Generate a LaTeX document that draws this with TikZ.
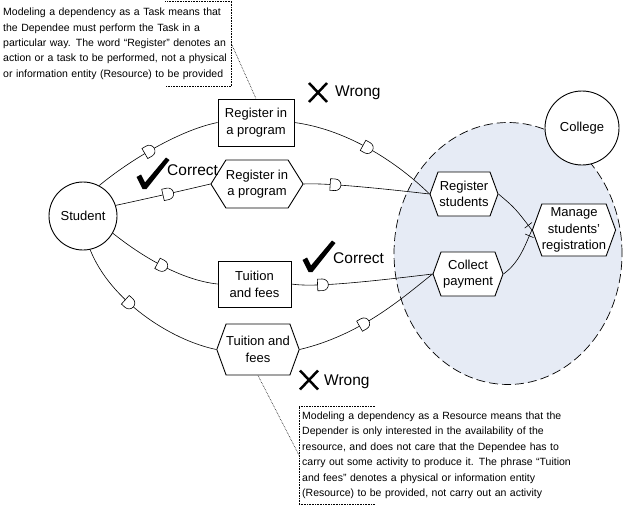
\documentclass[tikz,border=0pt]{standalone}
\usepackage{fontspec}
\setmainfont{Liberation Sans}
\usetikzlibrary{shapes.symbols,shapes.geometric,decorations.markings}

\definecolor{boundblue}{RGB}{230,235,245}

\newcommand{\okmark}[1]{\fill[shift={#1}] (-7.5,-11) -- (-3,-13.5) -- (1,-5.5) -- (22,-30.5) -- (25.5,-28) -- (2.5,1) -- (-1.5,1) -- cycle;}
\newcommand{\nomark}[1]{\draw[line width=2.5pt, shift={#1}] (-9,-9.5) -- (9,9.5) (9,-9.5) -- (-9,9.5);}

\tikzset{
  actor/.style={circle, draw, line width=0.9pt, fill=white, inner sep=0pt, font=\fontsize{13}{17}\selectfont},
  resbox/.style={rectangle, draw, line width=0.9pt, fill=white, align=center, inner sep=0pt, font=\fontsize{13}{17}\selectfont},
  taskhex/.style={signal, signal to=east and west, signal pointer angle=140, draw, line width=0.9pt, fill=white, align=center, inner sep=0pt, font=\fontsize{13}{16.5}\selectfont},
  link/.style={line width=0.6pt},
  dep/.style={postaction={decorate}, decoration={markings, mark=at position #1 with {\draw[fill=white, line width=0.6pt] (-5,-5.8) -- (0,-5.8) arc[start angle=-90, end angle=90, radius=5.8] -- (-5,5.8) -- cycle;}}},
  decomp/.style={postaction={decorate}, decoration={markings, mark=at position #1 with {\draw[line width=0.6pt] (0,-4.5) -- (0,4.5);}}},
  note/.style={align=left, inner xsep=3pt, inner ysep=0pt, font=\fontsize{10.5}{15.4}\selectfont},
  bracket/.style={densely dotted, line width=0.6pt},
  verdict/.style={anchor=west, inner sep=0pt, font=\fontsize{15.5}{18}\selectfont},
}

\begin{document}
\begin{tikzpicture}[x=1pt, y=-1pt]
\useasboundingbox (0,0) rectangle (624,506);

\path (508,253.5) node[ellipse, draw, fill=boundblue, dash pattern=on 9pt off 4pt, line width=0.7pt, minimum width=228pt, minimum height=262pt] (boundary) {};

\path (83,216) node[actor, minimum size=68pt] (student) {Student};
\path (582,128) node[actor, minimum size=74pt] (college) {College};

\path (256,122.5) node[resbox, minimum width=76pt, minimum height=47pt] (regres) {Register in\\a program};
\path (257,184) node[taskhex, minimum width=78pt, minimum height=48pt, signal pointer angle=116] (reghex) {Register in\\a program};
\path (254.5,284) node[resbox, minimum width=73pt, minimum height=46pt] (tuires) {Tuition\\and fees};
\path (258,349.5) node[taskhex, minimum width=80pt, minimum height=51pt] (tuihex) {Tuition and\\fees};

\path (464,194) node[taskhex, minimum width=68pt, minimum height=44pt] (regstu) {Register\\students};
\path (468,274) node[taskhex, minimum width=70pt, minimum height=44pt] (colpay) {Collect\\payment};
\path (574,230) node[taskhex, minimum width=80pt, minimum height=52pt] (manage) {Manage\\students’\\registration};

\draw[link, dep=0.45] (student.62) .. controls (130,160) and (180,130) .. (regres.west);
\draw[link, dep=0.5] (regres.east) .. controls (350,130) and (400,165) .. (regstu.west);
\draw[link, dep=0.55] (student.18) .. controls (150,198) and (185,190) .. (reghex.west);
\draw[link, dep=0.25] (reghex.east) .. controls (320,183) and (360,186) .. (regstu.west);
\draw[link, dep=0.5] (student.-30) .. controls (140,255) and (180,280) .. (tuires.west);
\draw[link, dep=0.22] (tuires.east) .. controls (310,287) and (350,284) .. (colpay.west);
\draw[link, dep=0.4] (student.-78) .. controls (110,300) and (170,340) .. (tuihex.west);
\draw[link, dep=0.45] (tuihex.east) .. controls (360,335) and (400,300) .. (colpay.west);

\draw[link, decomp=0.88] (regstu.east) .. controls (515,208) .. (manage.west);
\draw[link, decomp=0.88] (colpay.east) .. controls (520,262) and (525,245) .. (manage.west);

\nomark{(318,92.5)}
\path (335,92.5) node[verdict] (wrong1) {Wrong};
\okmark{(144,188)}
\path (167,170) node[verdict] (correct1) {Correct};
\okmark{(310,271)}
\path (333,258) node[verdict] (correct2) {Correct};
\nomark{(309,380)}
\path (324,382) node[verdict] (wrong2) {Wrong};

\path (0,1) node[note, anchor=north west, text width=225pt, minimum height=85pt] (notetask) {Modeling a dependency as a Task means that\\the Dependee must perform the Task in a\\particular way. The word “Register” denotes an\\action or a task to be performed, not a physical\\or information entity (Resource) to be provided};
\draw[bracket] ([xshift=-66pt]notetask.north east) -- (notetask.north east) -- (notetask.south east) -- ([xshift=-66pt]notetask.south east);
\draw[bracket] (notetask.east) -- (regres.north);

\path (299,406) node[note, anchor=north west, text width=319pt, minimum height=98pt] (noteres) {Modeling a dependency as a Resource means that the\\Depender is only interested in the availability of the\\resource, and does not care that the Dependee has to\\carry out some activity to produce it. The phrase “Tuition\\and fees” denotes a physical or information entity\\(Resource) to be provided, not carry out an activity};
\draw[bracket] ([xshift=76pt]noteres.north west) -- (noteres.north west) -- (noteres.south west) -- ([xshift=76pt]noteres.south west);
\draw[bracket] (noteres.west) -- (tuihex.south);

\end{tikzpicture}
\end{document}
